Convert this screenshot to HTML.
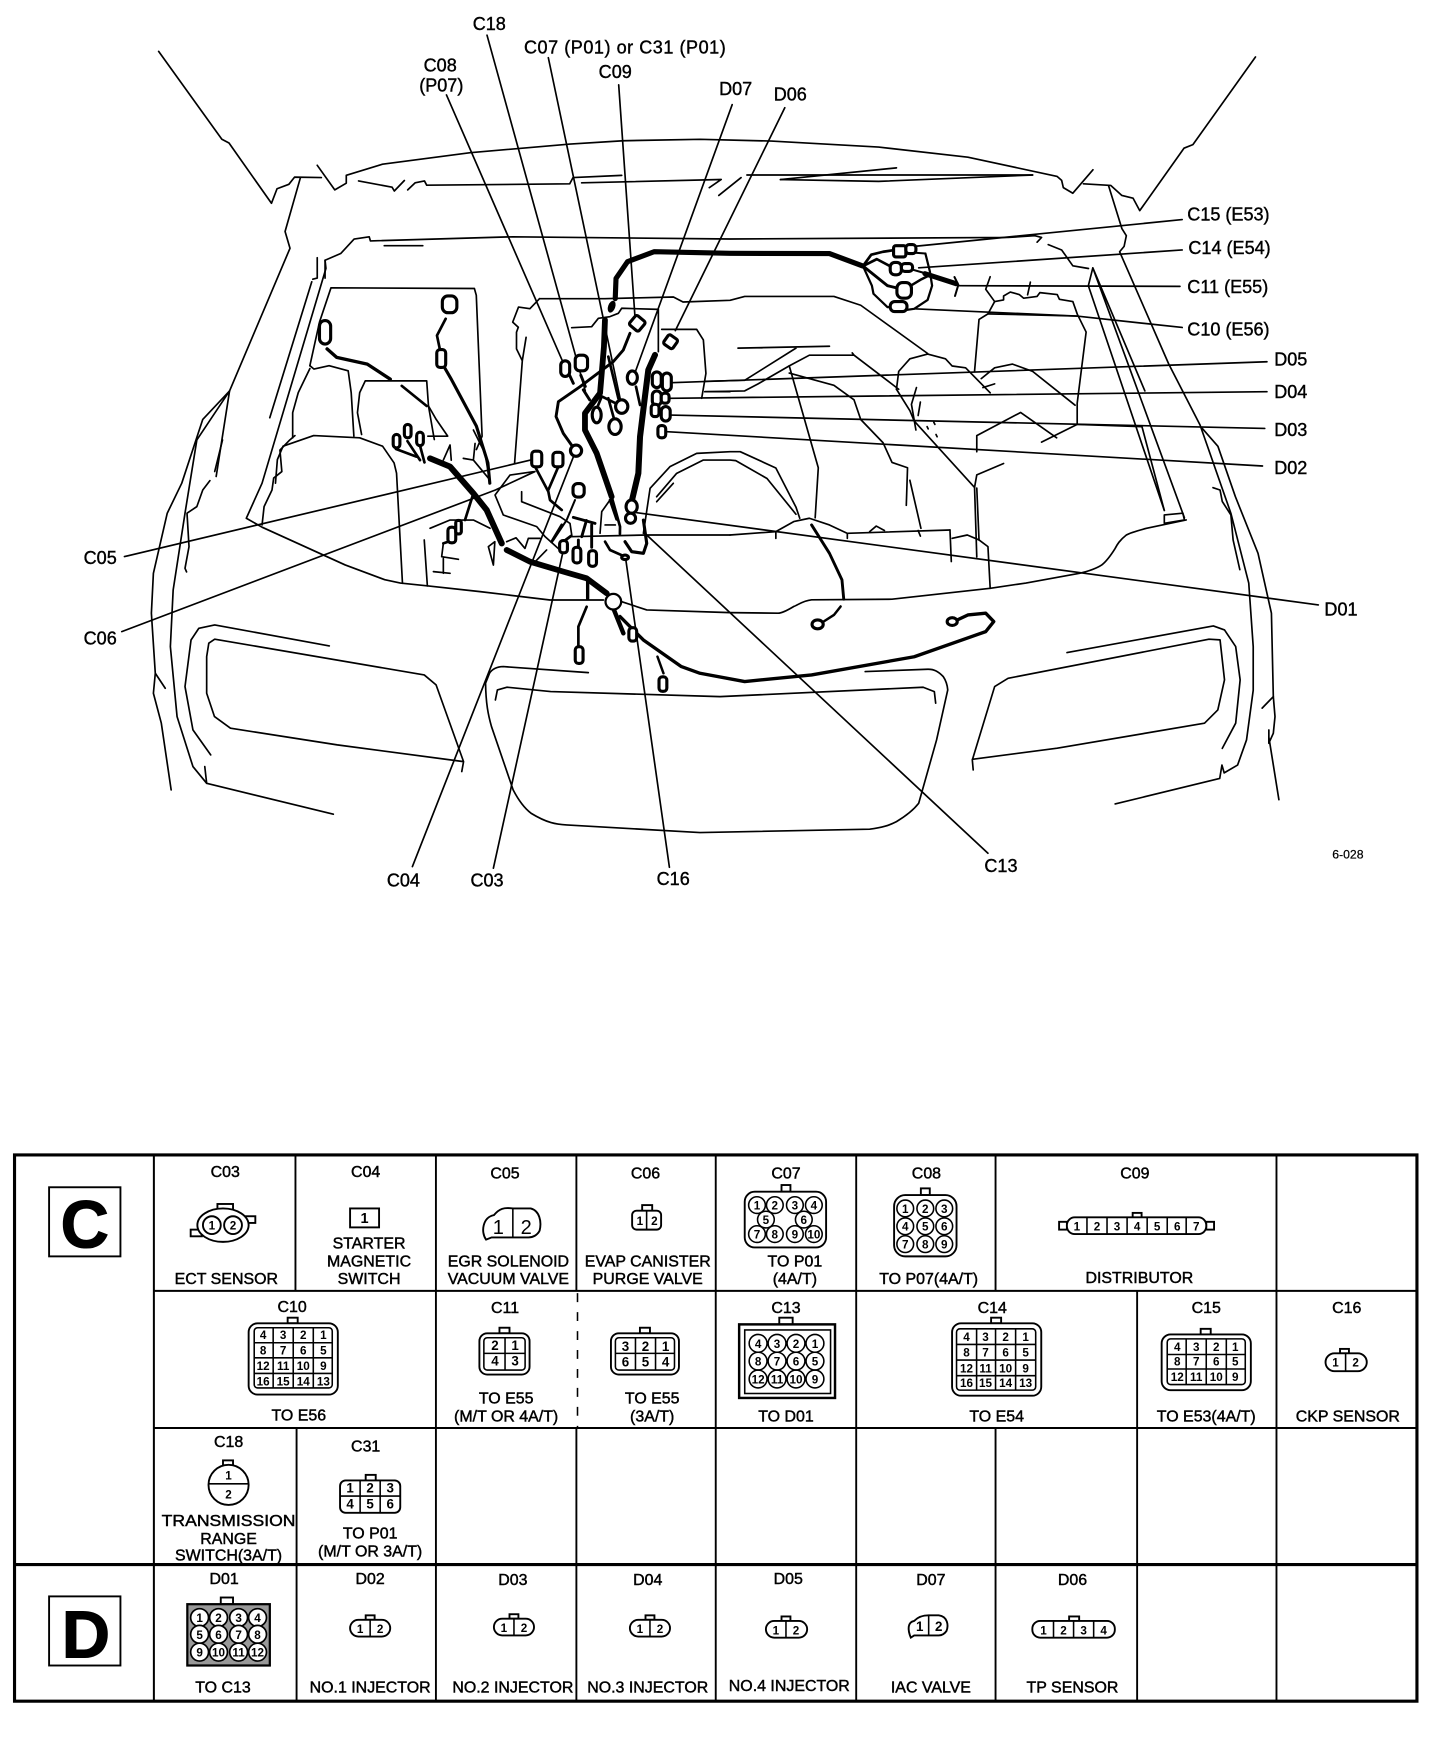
<!DOCTYPE html>
<html><head><meta charset="utf-8"><style>
html,body{margin:0;padding:0;background:#fff;width:1456px;height:1748px;overflow:hidden}
svg{display:block}
.a path,.a polyline,.a line{fill:none;stroke:#000;stroke-width:1.5;stroke-linejoin:round;stroke-linecap:round}
.w path{fill:none;stroke:#000;stroke-linecap:round;stroke-linejoin:round}
.c rect,.c ellipse{fill:#fff;stroke:#000;stroke-width:2.8}
text{font-family:"Liberation Sans",sans-serif;fill:#000}
.L{font-size:16.2px;stroke:#000;stroke-width:.35}
.T{font-size:14.3px;text-anchor:middle;stroke:#000;stroke-width:.4}
.n{font-size:10.5px;text-anchor:middle;font-weight:bold}
.b{fill:none;stroke:#000;stroke-width:1.7}
.bw{fill:#fff;stroke:#000;stroke-width:1.7}
.g{stroke:#000;stroke-width:1.4;fill:none}
</style></head><body>
<svg width="1456" height="1748" viewBox="0 0 1306 1568" xmlns="http://www.w3.org/2000/svg">
<rect width="1306" height="1568" fill="#fff"/>

<g transform="scale(1.0019)">
<g class="a">
<!-- hood / cowl -->
<polyline points="142,46 198.6,124.7 205,128 243,182 248,169 258.6,165 263.7,158.6 287.7,159"/>
<polyline points="284,148 299.7,170 310,164 310,157 342.5,147 421,136.7 510.4,129 558,126 626.7,124.7 690.6,126.3 786.6,131.7 866.5,140.7 946.5,158 950.5,161.5 952,168 960.5,173 978.5,152"/>
<polyline points="970,164.6 994.4,166 1004.4,175 1014.4,177.4 1020.4,188.6 1060,132.7 1068,129.5 1124,51"/>
<polyline points="321,162 351,167.6 353,171 362,161.6"/>
<polyline points="365,170 371.6,163.7 380,162 382,165.8 510,164.6 513,159 556.6,157"/>
<polyline points="520.7,163.7 645.7,160.7 635,168"/>
<polyline points="643.5,175 663.5,159"/>
<polyline points="668.7,156.7 672.7,156.7 924.5,156.7"/>
<polyline points="698.7,160.8 786.6,162.4 924.5,156.7"/>
<polyline points="698.7,160.8 802.6,150.3"/>
<!-- firewall -->
<polyline points="284,230.7 284,249 280,250"/>
<polyline points="291,249 291,233 305,227 317,214 330.5,212 331.6,215.7 459,212 653.6,214 902.5,212.6 926.5,211 932.5,212.6 928.5,216.8"/>
<polyline points="344,220 378.5,220"/>
<polyline points="938.5,219 950.5,223.8 960.5,238 974.5,240.4"/>
<!-- right fender -->
<path d="M992.4,166 L1004.4,204.6 1008.4,211 1006.4,220.6 1002.4,225.4 L1046.4,326 1074.4,380.5 1102,459.5 1118,522 1122,579 1122,618 1116,662.5 1108,685 1096,692 1094,685 1092,697 998.4,719.8"/>
<path d="M1076.4,383.6 1090.4,399.6 1106,444.6 1126.3,495.4 1138.3,549 1140,623.7 1130,634"/>
<path d="M1140,623.7 1141.5,641.6 1140,656.5 1136,665.4 1136,653.5 M1136,660 1145,716"/>
<path d="M1086,436.6 1092.3,438.7 1094.3,449 1102,461 1104,483.4 1110,510"/>
<path d="M978.4,239.8 1025,350 M978.4,239.8 974.4,255.8 1042.4,457 M978.4,239.8 1060.4,463.6"/>
<path d="M1042.4,461 1059,459.5 1060.4,465.5 1042.4,468.5Z"/>
<path d="M1062,465.5 1026.4,473 C1015,476 1010,478 1008.4,479 C1002,484 1000,488 998.4,491 C994,498 990,503 986.4,505.8 C980,510 972,512 966.4,513.3 L918.5,522 886.5,526.7 798.6,536.5 726.6,537 C718,538 714,542 710.6,543 C704,547 700,549 696.6,549 L653.6,548.5 579,546.1 556.6,538.7"/>
<path d="M540.2,537.2 492.4,537.2 429.8,529.7 383.3,524.6 358.5,522 344.4,519 309,505.8 234.6,472 220.5,464 234.6,432.6 291.8,240.3 291,233"/>
<path d="M234.6,470 236.4,453.6 243.5,438.7 245,428 252.3,422.2 250.6,403 259.4,393.9 L264,390"/>
<path d="M246.6,432.6 248.3,411.5 253.4,399.5 280.8,390 322,392 342.5,399.5 352.8,414.5 355,423.7 360.3,522.2"/>
<!-- left fender -->
<path d="M268.9,159.2 255.2,207.3 259.6,222.3 205.5,350 181.5,375.5 162.7,432.6 149.7,459.5 137.3,513.3 135.5,549 139,602.8 147.9,616.2"/>
<path d="M139,602.8 137.3,620.7 144.4,647.5 153.2,707.2"/>
<path d="M205.5,350 193.5,426.6 M205.5,350 176.2,393.9 165.6,459.5 155,528.2 152.5,578.9 158.5,641.6 172.7,686.3 185,701.3 298.4,729"/>
<path d="M279.1,252.3 241.5,374"/>
<path d="M199.2,393.9 192.2,422.2"/>
<path d="M187.9,430.3 181.5,438.7 176.2,453.6 167.4,459.5 169.2,489.4 165.6,508.8 167,512"/>
<path d="M183.3,686.3 185,701.3"/>
<!-- battery area -->
<path d="M277.4,327.4 286,288.4 296.3,257.7 424.7,258.3 426.4,264.4 431.6,390.5 426.5,402.5"/>
<path d="M277.4,327.4 281,330.4 294.6,327.4 311.7,332 314.4,351.5 316.8,390.5"/>
<path d="M277.4,330 267,351.5 262,369.5 262,392"/>
<path d="M349,341 382,341 383.6,363.5 388.8,393.5 M327,341 349,341 M327,341 322,351.5 320,369.5 323.7,389"/>
<path d="M383,390.5 400.8,390.5 390.5,375.5 383.6,363.5"/>
<path d="M414.8,410.4 423.8,411.9 425.3,397 M423.8,411.9 438.7,429.8"/>
<path d="M396.9,411.9 402.9,398.4 404,412"/>
<path d="M423.8,385 434.2,405.9 438.7,432.7"/>
<!-- middle -->
<path d="M483,267.4 541.2,267.4 602.9,265.9 611.5,270.4 653.6,268.9 666.7,265.4 746.6,265.4 770.6,273.3 830.5,316.5"/>
<path d="M483,267.4 474.4,276.4 464.2,274.9 459,288.4 464,293"/>
<path d="M464,293 462.4,297.4 462.4,312.4 467.6,323 471,302 M467.6,323 460.7,414.5"/>
<path d="M802.6,348.5 804.6,332.5 814.6,321.3 830.5,317 846.5,321.3 852.5,327.7 864.5,329.3 886.5,351.7"/>
<path d="M802.6,348.5 814.6,367.7 818.5,377 872.5,436.4 874.5,498.7"/>
<path d="M872.5,436.4 874.5,425.2 898.5,415"/>
<path d="M874.5,437 876.5,483.4 884.5,489.4 886.5,526.7"/>
<path d="M852.5,482 866,479 876.5,483.4"/>
<path d="M850.5,474.5 851.7,502.8"/>
<path d="M653.6,479 694.6,476 710.6,467 724.6,464 742.6,470 758.6,477.5 850.5,474.5"/>
<path d="M694.6,482 694.6,476"/>
<path d="M778.6,476 784.5,471 791.8,475 M822,475 824,480 M758.6,477.5 758.6,482"/>
<path d="M706.6,327.6 724.6,318 764.6,318 804.6,348.5 M764.6,318 763,316"/>
<path d="M878.5,339 890.5,329.3 906.5,326 924.5,332.5 962.5,362.8"/>
<path d="M631,341.4 666.7,340.5 712.6,311.7 M660.7,311.7 742.6,310"/>
<path d="M631,350.7 666.7,350 678.7,343.7 706.6,327.6"/>
<path d="M706.6,327.6 732.6,418.8 729.8,463.6"/>
<path d="M706.6,334 746.6,345 764.6,358 770.6,375.6 790.6,396.4 798.6,414 812.5,418.8 811.4,452.4"/>
<path d="M814.6,430 824.5,473"/>
<path d="M820.5,347 816,362 820,385 M824,360 822,372"/>
<path d="M886.5,247.8 882.5,259 890.5,270 884.5,281 876.5,286 872.5,332.5"/>
<path d="M890.5,270 898.5,268.5 898.5,265 904.5,261.5 912.5,263.7 916.5,267 928.5,265.4 931,262 946.5,263.7 948.5,268 960.5,270 964.5,281.3 972.4,297.3 964.4,361 964.4,380 1022.4,382 1042.4,457"/>
<path d="M922.5,252.6 920,264"/>
<path d="M884.5,281 964,283"/>
<path d="M932.5,395.8 964.4,380 M874.5,404.5 874.5,390 913.7,369.3 946,392"/>
<path d="M890.5,343.7 880,347"/>
<path d="M830,382 831,384 M838,389 839,391 M836,378 837,380"/>
<!-- wheel arc -->
<path d="M576,477.5 582,437.2 599.8,417.8 623.7,405.9 653.6,404.4 662.7,404.4 694.6,419 712.6,454 716,464"/>
<path d="M587.9,444.7 605.8,423.8 629.7,411.9 653.6,411.9 658.7,412.4 686.7,428.4 712.6,460.4" stroke-width="2.6"/>
<path d="M602.8,432.7 587.9,449.2"/>
<!-- grille -->
<path d="M526.7,602.2 450.6,596.8 C443,597 440,600 438.2,602.8 L434.7,611.7 C435,630 437,640 440,650.5 L459.4,707.2 C465,718 470,724 475.4,728.1 C490,737 498,738 507.2,738.6 L626.7,745.4 778.6,742.4 C790,741 796,739 802.6,735.6 C812,730 818,725 822.5,719.2 L838.5,662.5 848.5,617.7 C848,612 846,608 844.5,605.8 C840,601 836,599 830.5,599.2 L774.6,601.3"/>
<path d="M443.5,626.7 445.3,617.7 454,615.3 493,619.2 644.6,623.7 826.5,615.3 836.5,619.2 837.7,629.6"/>
<!-- left headlight -->
<path d="M294.8,578.3 192.2,559.5 178,562.5 171,573 165.6,614.7 172.7,653.5 188.6,675.9"/>
<path d="M186.9,575.9 192.2,572.3 379.8,604.3 390.4,613.2 415,681.9 413.4,690.8 M415,681.9 301.9,666.9 206.3,652 192,641.6 185,620.7 185,587.9 186.9,575.9"/>
<!-- right headlight -->
<path d="M955.3,584.3 1086.3,560.4 1096.3,564 1106.3,578.9 1110.3,608.7 1106.3,647.5 1094.3,670"/>
<path d="M1092.3,572.9 1082.4,572.3 902.5,607.3 890.5,614.7 870.5,680.4 871.3,689.3 M870.5,679.8 946.5,669.9 1078.4,647.5 1090.3,635.6 1096.3,608.7 1092.3,572.9"/>
<!-- leaders -->
<line x1="436" y1="31.5" x2="524" y2="350"/>
<line x1="490.9" y1="51.7" x2="556.6" y2="363.5"/>
<line x1="553.9" y1="76" x2="568.6" y2="285.4"/>
<line x1="399.7" y1="85" x2="508.7" y2="335"/>
<line x1="655.5" y1="93.7" x2="568.6" y2="333.4"/>
<line x1="702.6" y1="96.5" x2="604.6" y2="296"/>
<line x1="1058.4" y1="196.6" x2="818.5" y2="220.6"/>
<line x1="1058.4" y1="223.8" x2="822.5" y2="239.8"/>
<line x1="1056.4" y1="256.4" x2="858.5" y2="255.8"/>
<polyline points="1058.4,293.2 964,283 818.5,276.5"/>
<line x1="1134.3" y1="323.9" x2="601.3" y2="342.6"/>
<line x1="1134.3" y1="350.7" x2="600" y2="356.6"/>
<line x1="1132.3" y1="383.6" x2="600" y2="371.6"/>
<line x1="1130.3" y1="417.2" x2="597" y2="386.5"/>
<line x1="1180.3" y1="541.6" x2="570" y2="459"/>
<line x1="111.4" y1="498.3" x2="475.4" y2="411.8"/>
<polyline points="109,565.5 443.5,438.7 478.9,422.2"/>
<line x1="369.2" y1="775.9" x2="514" y2="407.3"/>
<line x1="441.7" y1="777.3" x2="503.7" y2="495.4"/>
<line x1="599.3" y1="776.5" x2="560.3" y2="501.3"/>
<line x1="884.5" y1="763.9" x2="579" y2="479"/>
<!-- center thin -->
<path d="M511.8,293.4 529.7,292.5 535.7,285 546,283.5 553.6,280.5 556.6,276 589.4,277 589.4,314.9"/>
<path d="M592.4,294.9 623.7,294.9 629.7,304.4 632,334.3 628.2,356.6"/>
<path d="M631,350.7 653.5,350.7"/>
<path d="M477.5,422.3 456.6,425.3 443.2,443.2 450.6,461.1 480.5,471.5 488,480.5 502.9,493.9"/>
<path d="M467,440.2 467,449.2 501.4,462.6 510.3,468.6 512,480"/>
<path d="M453.6,485 462,481.5 470,491 473,482 483.5,482 M510.3,480.5 579,479 653.6,479"/>
<path d="M489.4,492.4 480,502"/>
<path d="M441.7,505.9 443,485 437.2,489.4 441.7,505.9"/>
<path d="M385,473 402.9,465.6 423.8,465.6 438.7,473"/>
<path d="M396.9,486.5 395.4,498.4 410.4,500.8 M396.9,500 396.9,513.3 M388,511.8 402.9,513.3"/>
<path d="M379.8,483.4 382.6,524.6"/>
<path d="M541.7,470 550.9,470 M546.1,447.7 538.7,458.1 537.2,477.5"/>
</g>

<g class="w">
<path d="M550.8,267.4 551.5,249.3 561.8,234.3 585.8,225.3 653.6,226.8 742.6,227 772.6,238.2" stroke-width="4.6"/>
<path d="M772.6,238.2 780,228 790.6,225.4 800,224" stroke-width="2.4"/>
<path d="M772.6,238.2 785,232 800,240" stroke-width="2.4"/>
<path d="M772.6,238.2 794.6,255.8 808,259" stroke-width="2.6"/>
<path d="M772.6,238.2 780.6,255.8 782,263 794.6,275 802,275" stroke-width="2"/>
<path d="M810,259 825,250 831,247" stroke-width="2.2"/>
<path d="M828.5,227 832.5,243 834.5,255.8 830.5,268.5 818.5,276.5 808,278" stroke-width="2"/>
<path d="M815,226 828.5,227 M812,240 826,244" stroke-width="1.8"/>
<path d="M828,245 856,254" stroke-width="4.5"/>
<path d="M854.5,248 858,255 855,265" stroke-width="1.8"/>
<path d="M541.6,286.5 540.7,310.4 537.2,352 523.7,370 523.7,385 534.2,405.9 547.6,444.7" stroke-width="5.2"/>
<path d="M547.6,444.7 555.1,471.5 555,478 M546.1,447.7 552,465" stroke-width="2.4"/>
<path d="M586.4,317.8 580.4,331.3 577.4,355.1 573,391 571.5,423.8 565.5,449.2" stroke-width="5.4"/>
<path d="M564,298.4 558,313.4 549,323.8 519.3,346.2 499.9,359.6 497.8,373 504.3,388 514.8,402.9" stroke-width="2.6"/>
<path d="M522.2,349 527.9,358 M513.3,343.2 509,334 M520,336 524,346" stroke-width="2.6"/>
<path d="M538.7,355 534.2,366 M544.6,356.6 550,376 M544.6,319.3 553.6,356.6 M537,354 553,362" stroke-width="2.4"/>
<path d="M569.4,346.2 573,362.6" stroke-width="2.4"/>
<path d="M292.8,312.4 301.4,320 328.8,326 349.4,339.5" stroke-width="3"/>
<path d="M359.7,345.5 382,363.5" stroke-width="2.4"/>
<path d="M399,285.4 391.2,300.4 395.6,321.4" stroke-width="2.4"/>
<path d="M395.6,325 404,339.5 426.5,381.5 436.8,414.5 438.5,432.6" stroke-width="2.8"/>
<path d="M354.5,402 372.7,408.8 M364.8,395 376,412 M376,399 380,414" stroke-width="2.4"/>
<path d="M385,410.4 402.9,417.8 423.8,441.7 435.7,456.6 449.2,486.5" stroke-width="5.4"/>
<path d="M423.8,441.7 416.3,465.6" stroke-width="2.4"/>
<path d="M453.6,492.4 474.5,502.9 504.4,511.8 525.2,517.8 543.2,531.2" stroke-width="5.2"/>
<path d="M526.1,519.3 526.1,535.7" stroke-width="3"/>
<path d="M525.2,543.2 517.8,561 517.8,579" stroke-width="2.4"/>
<path d="M549.1,544.6 558.1,567" stroke-width="4"/>
<path d="M555.1,552 576,573 610,596.8 626.7,602.8 666.7,610.2 726.6,604.3 818.5,588 882.5,565.5 889.7,556.5 882.5,549 866.5,550.6 855,556" stroke-width="3"/>
<path d="M588.6,587.9 594,602.8" stroke-width="2.2"/>
<path d="M752.6,543 746.6,550.6 735,558" stroke-width="2.2"/>
<path d="M726.6,470 742.6,495.4 753.8,519.2 755.4,536.5" stroke-width="2.6"/>
<path d="M479,417.8 490.9,440.2 492.4,447.7 502.9,456.6 M499.9,417.8 490.9,438.7" stroke-width="2.4"/>
<path d="M514.8,447.7 507.3,465.6 495.4,483.5" stroke-width="1.8"/>
<path d="M502.9,470 493.9,485 M513.3,463.2 532.7,468.6 M525,466 520.8,480.5 M529.7,470 529.7,490 M517.8,483.5 517.8,492 M503,486 511,480" stroke-width="2.6"/>
<path d="M541.7,485 546.1,492.4 559.6,498.4" stroke-width="2.4"/>
<path d="M559.6,485 565.5,493.9 576,495.4 579,486.5 576,465.6" stroke-width="2.8"/>
<path d="M404,484 396.9,486.5" stroke-width="2.4"/>
<ellipse cx="547.6" cy="274.6" rx="3.2" ry="5.5" transform="rotate(20 547.6 274.6)" fill="#000" stroke="none"/>
</g>

<g class="c">
<circle cx="549.1" cy="538.7" r="7" fill="#fff" stroke="#000" stroke-width="2"/>
<rect x="800" y="220" width="11" height="10" rx="2"/><rect x="811" y="219" width="9" height="8" rx="3"/>
<rect x="797" y="235" width="10" height="11" rx="4"/><rect x="807" y="236" width="10" height="7" rx="3"/>
<rect x="803" y="253" width="13" height="14" rx="5"/><rect x="797" y="270" width="15" height="9" rx="4"/>
<rect x="286" y="287" width="10" height="21" rx="5"/>
<rect x="396" y="265" width="13" height="15" rx="5"/>
<rect x="391" y="313" width="8" height="16" rx="3"/>
<rect x="352" y="389" width="6" height="12" rx="3"/><rect x="362" y="380" width="6" height="12" rx="3"/><rect x="373" y="387" width="6" height="12" rx="3"/>
<rect x="401" y="472" width="7" height="14" rx="3"/><rect x="408" y="466" width="5" height="12" rx="2"/>
<rect x="476" y="404" width="9" height="14" rx="3"/><rect x="495" y="405" width="9" height="13" rx="3"/>
<ellipse cx="515.7" cy="403.5" rx="5" ry="5"/><rect x="513" y="433" width="10" height="12" rx="4"/>
<rect x="501" y="484" width="7" height="11" rx="3"/><rect x="513" y="490" width="7" height="14" rx="3"/><rect x="527" y="493" width="7" height="14" rx="3"/>
<rect x="515" y="579" width="7" height="15" rx="3"/><rect x="563" y="562" width="7" height="12" rx="3"/><rect x="590" y="606" width="7" height="13" rx="3"/>
<ellipse cx="559.6" cy="499" rx="3" ry="2"/><ellipse cx="732" cy="559" rx="5" ry="4"/><ellipse cx="852.5" cy="556.5" rx="4.5" ry="3.5"/>
<rect x="565" y="284" width="11" height="11" rx="2" transform="rotate(40 570.6 289.5)"/>
<rect x="595.4" y="301" width="10" height="10" rx="2" transform="rotate(35 600.4 305.9)"/>
<ellipse cx="566.1" cy="338.1" rx="4.5" ry="6"/>
<rect x="593" y="334" width="8" height="16" rx="4"/><rect x="584" y="333" width="8" height="14" rx="4"/><rect x="584" y="350" width="8" height="13" rx="4"/><rect x="592" y="352" width="7" height="9" rx="3"/><rect x="592" y="364" width="8" height="13" rx="4"/><rect x="583" y="362" width="7" height="11" rx="3"/><rect x="589" y="381" width="7" height="11" rx="3"/>
<rect x="502" y="323" width="8" height="14" rx="4"/><rect x="515" y="318" width="11" height="14" rx="4"/>
<ellipse cx="534.2" cy="371.6" rx="4" ry="7"/><ellipse cx="550.6" cy="382" rx="5.5" ry="7"/><ellipse cx="556.6" cy="364" rx="5.5" ry="6"/>
<ellipse cx="565.5" cy="453.6" rx="5" ry="6"/><ellipse cx="564.5" cy="464" rx="4.5" ry="4.5"/>
</g>
</g>

<!-- leader labels -->
<text class="L" x="424" y="27">C18</text>
<text class="L" x="470" y="48" textLength="181" lengthAdjust="spacing">C07 (P01) or C31 (P01)</text>
<text class="L" x="380" y="64">C08</text><text class="L" x="376" y="82">(P07)</text>
<text class="L" x="537" y="70">C09</text>
<text class="L" x="645" y="85">D07</text><text class="L" x="694" y="90">D06</text>
<text class="L" x="1065" y="198">C15 (E53)</text><text class="L" x="1066" y="228">C14 (E54)</text>
<text class="L" x="1065" y="263">C11 (E55)</text><text class="L" x="1065" y="301">C10 (E56)</text>
<text class="L" x="1143" y="328">D05</text><text class="L" x="1143" y="357">D04</text>
<text class="L" x="1143" y="391">D03</text><text class="L" x="1143" y="425">D02</text>
<text class="L" x="1188" y="552">D01</text>
<text class="L" x="75" y="506">C05</text><text class="L" x="75" y="578">C06</text>
<text class="L" x="347" y="795">C04</text><text class="L" x="422" y="795">C03</text>
<text class="L" x="589" y="794">C16</text><text class="L" x="883" y="782">C13</text>
<text x="1195" y="770" style="font-size:11px;stroke:#000;stroke-width:.2">6-028</text>

<!-- table -->
<g fill="none" stroke="#000">
<rect x="13" y="1036" width="1258" height="490" stroke-width="2.8"/>
<path d="M138,1036V1526" stroke-width="1.8"/>
<path d="M138,1158H1271M138,1281H1271" stroke-width="1.8"/>
<path d="M13,1403.5H1271" stroke-width="2.8"/>
<path d="M265,1036V1158M391,1036V1526M517,1036V1158M642,1036V1526M768,1036V1526M893,1036V1158M1145,1036V1526M1020,1158V1526M266,1281V1526M517,1281V1526M893,1281V1526" stroke-width="1.7"/>
<path d="M518,1160V1281" stroke-width="1.4" stroke-dasharray="8 9"/>
<rect x="44" y="1065" width="64" height="62" stroke-width="1.7"/>
<rect x="44" y="1432" width="64" height="62" stroke-width="1.7"/>
</g>
<text x="76" y="1119" style="font-size:60px;font-weight:bold;text-anchor:middle;stroke:#000;stroke-width:1">C</text>
<text x="77" y="1487" style="font-size:60px;font-weight:bold;text-anchor:middle;stroke:#000;stroke-width:1">D</text>

<!-- id labels -->
<g class="T">
<text x="202" y="1056">C03</text><text x="328" y="1056">C04</text><text x="453" y="1057">C05</text><text x="579" y="1057">C06</text><text x="705" y="1057">C07</text><text x="831" y="1057">C08</text><text x="1018" y="1057">C09</text>
<text x="262" y="1177">C10</text><text x="453" y="1178">C11</text><text x="705" y="1178">C13</text><text x="890" y="1178">C14</text><text x="1082" y="1178">C15</text><text x="1208" y="1178">C16</text>
<text x="205" y="1298">C18</text><text x="328" y="1302">C31</text>
<text x="201" y="1421">D01</text><text x="332" y="1421">D02</text><text x="460" y="1422">D03</text><text x="581" y="1422">D04</text><text x="707" y="1421">D05</text><text x="835" y="1422">D07</text><text x="962" y="1422">D06</text>
<text x="203" y="1152">ECT SENSOR</text>
<text x="331" y="1120">STARTER</text><text x="331" y="1136">MAGNETIC</text><text x="331" y="1152">SWITCH</text>
<text x="456" y="1136">EGR SOLENOID</text><text x="456" y="1152">VACUUM VALVE</text>
<text x="581" y="1136">EVAP CANISTER</text><text x="581" y="1152">PURGE VALVE</text>
<text x="713" y="1136">TO P01</text><text x="713" y="1152">(4A/T)</text>
<text x="833" y="1152">TO P07(4A/T)</text>
<text x="1022" y="1151">DISTRIBUTOR</text>
<text x="268" y="1274">TO E56</text>
<text x="454" y="1259">TO E55</text><text x="454" y="1275">(M/T OR 4A/T)</text>
<text x="585" y="1259">TO E55</text><text x="585" y="1275">(3A/T)</text>
<text x="705" y="1275">TO D01</text><text x="894" y="1275">TO E54</text><text x="1082" y="1275">TO E53(4A/T)</text><text x="1209" y="1275">CKP SENSOR</text>
<text x="205" y="1369" textLength="120" lengthAdjust="spacingAndGlyphs">TRANSMISSION</text><text x="205" y="1385">RANGE</text><text x="205" y="1400">SWITCH(3A/T)</text>
<text x="332" y="1380">TO P01</text><text x="332" y="1396">(M/T OR 3A/T)</text>
<text x="200" y="1518">TO C13</text><text x="332" y="1518">NO.1 INJECTOR</text><text x="460" y="1518">NO.2 INJECTOR</text><text x="581" y="1518">NO.3 INJECTOR</text><text x="708" y="1517">NO.4 INJECTOR</text><text x="835" y="1518">IAC VALVE</text><text x="962" y="1518">TP SENSOR</text>
</g>

<!-- C03 -->
<g><rect x="195" y="1080" width="14" height="6" class="b"/><rect x="171" y="1103" width="10" height="6" class="b"/><rect x="219" y="1091" width="10" height="6" class="b"/>
<ellipse cx="200" cy="1099" rx="23" ry="15" class="bw"/><circle cx="190" cy="1099" r="8" class="bw"/><circle cx="209" cy="1099" r="8" class="bw"/>
<text class="n" x="190" y="1103">1</text><text class="n" x="209" y="1103">2</text></g>
<!-- C04 -->
<rect x="314" y="1084" width="26" height="17" class="b"/><text class="n" x="327" y="1097" style="font-size:13px">1</text>
<!-- C05 -->
<path d="M436,1112C431,1105 433,1092 443,1090 448,1084 452,1083 460,1084H476C484,1086 486,1096 484,1104 482,1108 478,1110 474,1110H441Z" class="bw"/><path d="M460,1084V1110" class="g"/>
<text x="447" y="1107" style="font-size:18px;text-anchor:middle">1</text><text x="472" y="1107" style="font-size:18px;text-anchor:middle">2</text>
<!-- C06 -->
<rect x="576" y="1081" width="9" height="6" class="b"/><rect x="567" y="1086" width="26" height="17" rx="4" class="bw"/><path d="M580,1086V1103" class="g"/>
<text class="n" x="574" y="1099">1</text><text class="n" x="587" y="1099">2</text>
<!-- C07 -->
<rect x="701" y="1063" width="8" height="6" class="b"/><rect x="668" y="1069" width="73" height="50" rx="9" class="bw"/>
<g class="g"><circle cx="679" cy="1081" r="7.5"/><circle cx="695" cy="1081" r="7.5"/><circle cx="713" cy="1081" r="7.5"/><circle cx="730" cy="1081" r="7.5"/><circle cx="687" cy="1094" r="7.5"/><circle cx="721" cy="1094" r="7.5"/><circle cx="679" cy="1107" r="7.5"/><circle cx="695" cy="1107" r="7.5"/><circle cx="713" cy="1107" r="7.5"/><circle cx="730" cy="1107" r="7.5"/></g>
<g class="n"><text x="679" y="1085">1</text><text x="695" y="1085">2</text><text x="713" y="1085">3</text><text x="730" y="1085">4</text><text x="687" y="1098">5</text><text x="721" y="1098">6</text><text x="679" y="1111">7</text><text x="695" y="1111">8</text><text x="713" y="1111">9</text><text x="730" y="1111">10</text></g>
<!-- C08 -->
<rect x="826" y="1066" width="8" height="6" class="b"/><rect x="802" y="1072" width="56" height="55" rx="10" class="bw"/>
<g class="g"><circle cx="812" cy="1084" r="7.5"/><circle cx="830" cy="1084" r="7.5"/><circle cx="847" cy="1084" r="7.5"/><circle cx="812" cy="1100" r="7.5"/><circle cx="830" cy="1100" r="7.5"/><circle cx="847" cy="1100" r="7.5"/><circle cx="812" cy="1116" r="7.5"/><circle cx="830" cy="1116" r="7.5"/><circle cx="847" cy="1116" r="7.5"/></g>
<g class="n"><text x="812" y="1088">1</text><text x="830" y="1088">2</text><text x="847" y="1088">3</text><text x="812" y="1104">4</text><text x="830" y="1104">5</text><text x="847" y="1104">6</text><text x="812" y="1120">7</text><text x="830" y="1120">8</text><text x="847" y="1120">9</text></g>
<!-- C09 -->
<rect x="950" y="1096" width="7" height="7" class="b"/><rect x="1082" y="1096" width="7" height="7" class="b"/><rect x="1016" y="1088" width="8" height="5" class="b"/>
<rect x="957" y="1092" width="125" height="15" rx="7" class="bw"/><path d="M975,1092V1107M993,1092V1107M1011,1092V1107M1029,1092V1107M1047,1092V1107M1064,1092V1107" class="g"/>
<g class="n"><text x="966" y="1104">1</text><text x="984" y="1104">2</text><text x="1002" y="1104">3</text><text x="1020" y="1104">4</text><text x="1038" y="1104">5</text><text x="1056" y="1104">6</text><text x="1073" y="1104">7</text></g>
<!-- C10 -->
<rect x="258" y="1182" width="9" height="5" class="b"/><rect x="223" y="1187" width="80" height="64" rx="8" class="bw"/><rect x="228" y="1191" width="70" height="54" rx="3" class="g"/>
<path d="M245,1191V1245M263,1191V1245M281,1191V1245M228,1204.5H298M228,1218H298M228,1232H298" class="g"/>
<g class="n"><text x="236" y="1201">4</text><text x="254" y="1201">3</text><text x="272" y="1201">2</text><text x="290" y="1201">1</text><text x="236" y="1215">8</text><text x="254" y="1215">7</text><text x="272" y="1215">6</text><text x="290" y="1215">5</text><text x="236" y="1229">12</text><text x="254" y="1229">11</text><text x="272" y="1229">10</text><text x="290" y="1229">9</text><text x="236" y="1243">16</text><text x="254" y="1243">15</text><text x="272" y="1243">14</text><text x="290" y="1243">13</text></g>
<!-- C11 -->
<rect x="448" y="1191" width="9" height="5" class="b"/><rect x="430" y="1196" width="45" height="37" rx="7" class="bw"/><rect x="434" y="1200" width="37" height="29" rx="3" class="g"/><path d="M453,1200V1229M434,1214H471" class="g"/>
<g class="n" style="font-size:12px"><text x="444" y="1211">2</text><text x="462" y="1211">1</text><text x="444" y="1225">4</text><text x="462" y="1225">3</text></g>
<!-- C11b -->
<rect x="574" y="1191" width="9" height="5" class="b"/><rect x="548" y="1196" width="61" height="37" rx="7" class="bw"/><rect x="552" y="1200" width="53" height="29" rx="3" class="g"/><path d="M570,1200V1229M588,1200V1229M552,1214H605" class="g"/>
<g class="n" style="font-size:12px"><text x="561" y="1212">3</text><text x="579" y="1212">2</text><text x="597" y="1212">1</text><text x="561" y="1226">6</text><text x="579" y="1226">5</text><text x="597" y="1226">4</text></g>
<!-- C13 -->
<rect x="699" y="1182" width="12" height="6" class="b"/><rect x="663" y="1188" width="86" height="66" class="bw" style="stroke-width:2.2"/><rect x="668" y="1193" width="77" height="57" class="g"/>
<g class="g"><circle cx="680" cy="1205" r="8"/><circle cx="697" cy="1205" r="8"/><circle cx="714" cy="1205" r="8"/><circle cx="731" cy="1205" r="8"/><circle cx="680" cy="1221" r="8"/><circle cx="697" cy="1221" r="8"/><circle cx="714" cy="1221" r="8"/><circle cx="731" cy="1221" r="8"/><circle cx="680" cy="1237" r="8"/><circle cx="697" cy="1237" r="8"/><circle cx="714" cy="1237" r="8"/><circle cx="731" cy="1237" r="8"/></g>
<g class="n"><text x="680" y="1209">4</text><text x="697" y="1209">3</text><text x="714" y="1209">2</text><text x="731" y="1209">1</text><text x="680" y="1225">8</text><text x="697" y="1225">7</text><text x="714" y="1225">6</text><text x="731" y="1225">5</text><text x="680" y="1241">12</text><text x="697" y="1241">11</text><text x="714" y="1241">10</text><text x="731" y="1241">9</text></g>
<!-- C14 -->
<rect x="889" y="1182" width="9" height="5" class="b"/><rect x="854" y="1187" width="80" height="65" rx="8" class="bw"/><rect x="858" y="1192" width="71" height="55" rx="3" class="g"/>
<path d="M876,1192V1247M893,1192V1247M911,1192V1247M858,1206H929M858,1220H929M858,1234H929" class="g"/>
<g class="n"><text x="867" y="1203">4</text><text x="884" y="1203">3</text><text x="902" y="1203">2</text><text x="920" y="1203">1</text><text x="867" y="1217">8</text><text x="884" y="1217">7</text><text x="902" y="1217">6</text><text x="920" y="1217">5</text><text x="867" y="1231">12</text><text x="884" y="1231">11</text><text x="902" y="1231">10</text><text x="920" y="1231">9</text><text x="867" y="1244">16</text><text x="884" y="1244">15</text><text x="902" y="1244">14</text><text x="920" y="1244">13</text></g>
<!-- C15 -->
<rect x="1077" y="1192" width="9" height="5" class="b"/><rect x="1042" y="1197" width="80" height="50" rx="8" class="bw"/><rect x="1047" y="1201" width="70" height="41" rx="3" class="g"/>
<path d="M1064,1201V1242M1082,1201V1242M1100,1201V1242M1047,1215H1117M1047,1228H1117" class="g"/>
<g class="n"><text x="1056" y="1212">4</text><text x="1073" y="1212">3</text><text x="1091" y="1212">2</text><text x="1108" y="1212">1</text><text x="1056" y="1225">8</text><text x="1073" y="1225">7</text><text x="1091" y="1225">6</text><text x="1108" y="1225">5</text><text x="1056" y="1239">12</text><text x="1073" y="1239">11</text><text x="1091" y="1239">10</text><text x="1108" y="1239">9</text></g>
<!-- C16 -->
<rect x="1202" y="1210" width="8" height="4" class="b"/><rect x="1189" y="1214" width="37" height="16" rx="8" class="bw"/><path d="M1207,1214V1230" class="g"/><text class="n" x="1198" y="1226">1</text><text class="n" x="1216" y="1226">2</text>
<!-- C18 -->
<rect x="200" y="1310" width="9" height="5" class="b"/><circle cx="205" cy="1332" r="18" class="bw"/><path d="M187,1331H223" class="g"/><text class="n" x="205" y="1327">1</text><text class="n" x="205" y="1344">2</text>
<!-- C31 -->
<rect x="328" y="1323" width="9" height="5" class="b"/><rect x="305" y="1328" width="54" height="29" rx="5" class="bw"/><path d="M323,1328V1357M341,1328V1357M305,1342H359" class="g"/>
<g class="n" style="font-size:12px"><text x="314" y="1339">1</text><text x="332" y="1339">2</text><text x="350" y="1339">3</text><text x="314" y="1353">4</text><text x="332" y="1353">5</text><text x="350" y="1353">6</text></g>
<!-- D01 -->
<rect x="198" y="1433" width="11" height="6" class="b"/><rect x="168" y="1439" width="74" height="55" class="bw" style="stroke-width:2"/>
<path d="M168,1439H242V1494H168Z" fill="#000" fill-opacity=".4"/>
<g fill="#fff" stroke="#000" stroke-width="1.5"><circle cx="179" cy="1451" r="8"/><circle cx="196" cy="1451" r="8"/><circle cx="214" cy="1451" r="8"/><circle cx="231" cy="1451" r="8"/><circle cx="179" cy="1466" r="8"/><circle cx="196" cy="1466" r="8"/><circle cx="214" cy="1466" r="8"/><circle cx="231" cy="1466" r="8"/><circle cx="179" cy="1482" r="8"/><circle cx="196" cy="1482" r="8"/><circle cx="214" cy="1482" r="8"/><circle cx="231" cy="1482" r="8"/></g>
<g class="n"><text x="179" y="1455">1</text><text x="196" y="1455">2</text><text x="214" y="1455">3</text><text x="231" y="1455">4</text><text x="179" y="1470">5</text><text x="196" y="1470">6</text><text x="214" y="1470">7</text><text x="231" y="1470">8</text><text x="179" y="1486">9</text><text x="196" y="1486">10</text><text x="214" y="1486">11</text><text x="231" y="1486">12</text></g>
<!-- D02-05 -->
<rect x="328" y="1449" width="8" height="4" class="b"/><rect x="314" y="1453" width="36" height="15" rx="7.5" class="bw"/><path d="M332,1453V1468" class="g"/><text class="n" x="323" y="1465">1</text><text class="n" x="341" y="1465">2</text>
<rect x="457" y="1448" width="8" height="4" class="b"/><rect x="443" y="1452" width="36" height="15" rx="7.5" class="bw"/><path d="M461,1452V1467" class="g"/><text class="n" x="452" y="1464">1</text><text class="n" x="470" y="1464">2</text>
<rect x="579" y="1449" width="8" height="4" class="b"/><rect x="565" y="1453" width="36" height="15" rx="7.5" class="bw"/><path d="M583,1453V1468" class="g"/><text class="n" x="574" y="1465">1</text><text class="n" x="592" y="1465">2</text>
<rect x="701" y="1450" width="8" height="4" class="b"/><rect x="687" y="1454" width="37" height="15" rx="7.5" class="bw"/><path d="M705,1454V1469" class="g"/><text class="n" x="696" y="1466">1</text><text class="n" x="714" y="1466">2</text>
<!-- D07 -->
<path d="M817,1469C814,1462 814,1455 820,1454 824,1450 828,1449 833,1449H842C850,1450 851,1458 849,1463 847,1466 845,1467 842,1467H820Z" class="bw"/><path d="M833,1449V1467" class="g"/><text class="n" x="825" y="1463" style="font-size:12px">1</text><text class="n" x="842" y="1463" style="font-size:12px">2</text>
<!-- D06 -->
<rect x="959" y="1450" width="9" height="4" class="b"/><rect x="926" y="1454" width="74" height="15" rx="7" class="bw"/><path d="M945,1454V1469M963,1454V1469M981,1454V1469" class="g"/>
<g class="n"><text x="936" y="1466">1</text><text x="954" y="1466">2</text><text x="972" y="1466">3</text><text x="990" y="1466">4</text></g>
</svg>
</body></html>
